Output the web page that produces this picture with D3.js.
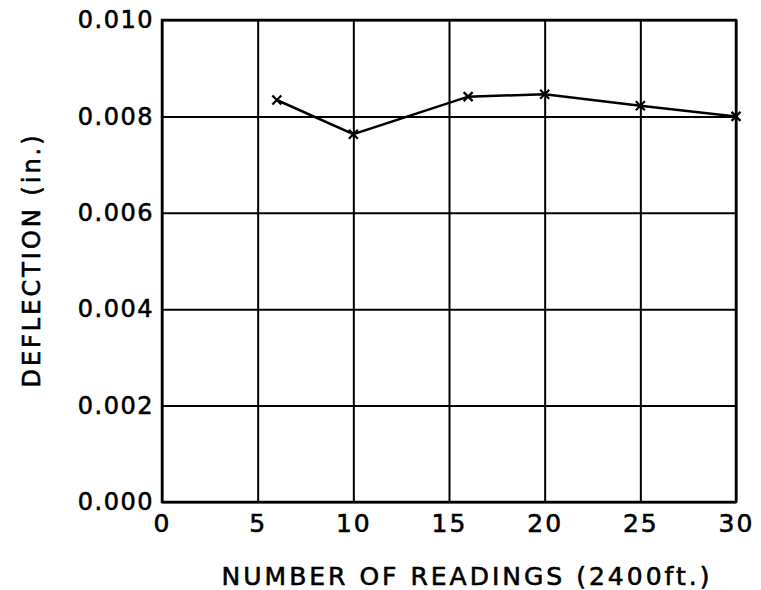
<!DOCTYPE html>
<html>
<head>
<meta charset="utf-8">
<script src="https://d3js.org/d3.v7.min.js"></script>
<style>
  body { margin: 0; background: #fff; }
  text { font-family: "DejaVu Sans", sans-serif; fill: #000; stroke: #000; stroke-width: 0.6px; }
</style>
</head>
<body>
<script>
// readings vs deflection
var readings = [6, 10, 16, 20, 25, 30];
var deflection = [0.00834, 0.00763, 0.00841, 0.00846, 0.00822, 0.00800];
var xTicks = [0, 5, 10, 15, 20, 25, 30];
var yTicks = [0, 0.002, 0.004, 0.006, 0.008, 0.010];

var width = 761, height = 590;
var marginLeft = 162, marginRight = 25, marginTop = 20, marginBottom = 88;

var x = d3.scaleLinear().domain([0, 30]).range([marginLeft, width - marginRight]);
var y = d3.scaleLinear().domain([0, 0.010]).range([height - marginBottom, marginTop]);

var svg = d3.select("body").append("svg")
  .attr("width", width).attr("height", height);

// vertical grid + x tick labels
var gx = svg.append("g")
  .attr("transform", "translate(0," + (height - marginBottom) + ")")
  .call(d3.axisBottom(x).tickValues(xTicks).tickSize(-(height - marginTop - marginBottom)).tickPadding(12).tickFormat(d3.format("d")));
gx.select(".domain").remove();
gx.selectAll("line").attr("stroke", "#000").attr("stroke-width", 2);
gx.selectAll("text").style("font-size", "25px").attr("letter-spacing", "2px");

// horizontal grid + y tick labels
var gy = svg.append("g")
  .attr("transform", "translate(" + marginLeft + ",0)")
  .call(d3.axisLeft(y).tickValues(yTicks).tickSize(-(width - marginLeft - marginRight)).tickPadding(8).tickFormat(d3.format(".3f")));
gy.select(".domain").remove();
gy.selectAll("line").attr("stroke", "#000").attr("stroke-width", 2);
gy.selectAll("text").style("font-size", "24px").attr("letter-spacing", "1.5px");

// frame
svg.append("rect")
  .attr("x", x(0)).attr("y", y(0.010))
  .attr("width", x(30) - x(0)).attr("height", y(0) - y(0.010))
  .attr("fill", "none").attr("stroke", "#000").attr("stroke-width", 2.5);

var pts = readings.map(function (d, i) { return [d, deflection[i]]; });

svg.append("path")
  .datum(pts)
  .attr("fill", "none")
  .attr("stroke", "#000")
  .attr("stroke-width", 2.5)
  .attr("d", d3.line().x(function (d) { return x(d[0]); }).y(function (d) { return y(d[1]); }));

// x markers
var s = 4.5;
svg.selectAll(".mark")
  .data(pts)
  .enter().append("path")
  .attr("class", "mark")
  .attr("stroke", "#000")
  .attr("stroke-width", 2.2)
  .attr("d", function (d) {
    var cx = x(d[0]), cy = y(d[1]);
    return "M" + (cx - s) + "," + (cy - s) + "L" + (cx + s) + "," + (cy + s) +
      "M" + (cx - s) + "," + (cy + s) + "L" + (cx + s) + "," + (cy - s);
  });

// axis titles
svg.append("text")
  .attr("x", (x(0) + x(30)) / 2 + 18)
  .attr("y", 585)
  .attr("text-anchor", "middle")
  .attr("letter-spacing", "3px")
  .style("font-size", "25px")
  .text("NUMBER OF READINGS (2400ft.)");

svg.append("text")
  .attr("transform", "translate(40," + 260 + ") rotate(-90)")
  .attr("text-anchor", "middle")
  .attr("letter-spacing", "3px")
  .style("font-size", "24px")
  .text("DEFLECTION (in.)");
</script>
</body>
</html>
